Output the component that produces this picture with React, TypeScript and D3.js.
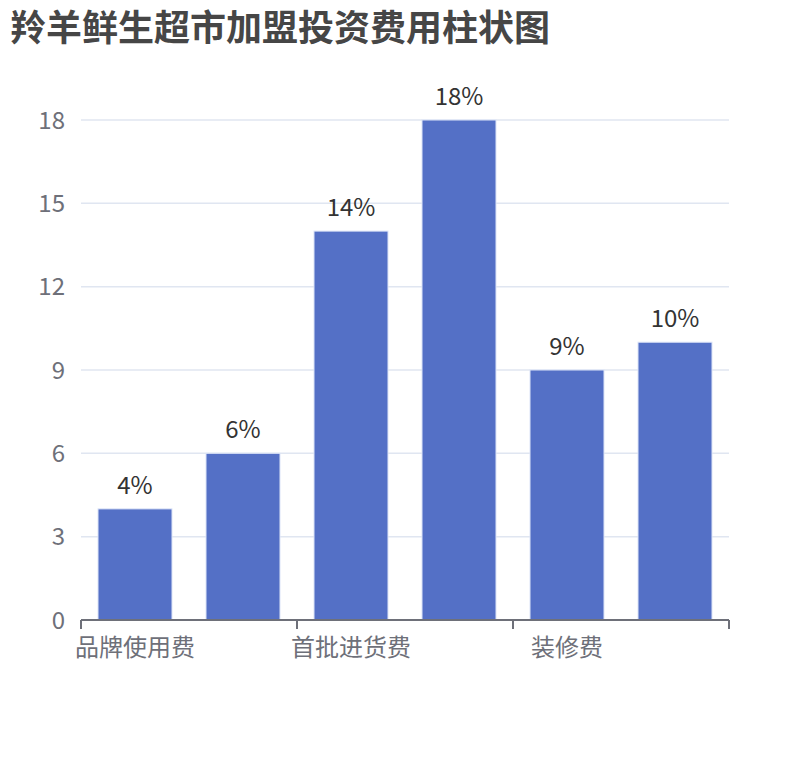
import React, { useEffect, useRef } from "react";
import * as d3 from "d3";

// данные графика
const categories = ["品牌使用费", "加盟保证金", "首批进货费", "设备购置费", "装修费", "流动资金"];
const values = [4, 6, 14, 18, 9, 10];
const yTicks = [0, 3, 6, 9, 12, 15, 18];
const title = "羚羊鲜生超市加盟投资费用柱状图";

const FONT = "'Noto Sans CJK SC', 'Noto Sans', sans-serif";

const App: React.FC = () => {
	const svgRef = useRef<SVGSVGElement | null>(null);

	useEffect(() => {
		if (!svgRef.current) return;
		const svg = d3.select(svgRef.current);
		svg.selectAll("*").remove();

		const width = 810;
		const height = 760;
		const margin = { top: 120, right: 81, bottom: 140, left: 81 };
		const innerWidth = width - margin.left - margin.right;
		const innerHeight = height - margin.top - margin.bottom;

		svg.attr("width", width).attr("height", height).style("font-family", FONT);

		svg
			.append("rect")
			.attr("width", width)
			.attr("height", height)
			.attr("fill", "#ffffff");

		// заголовок
		svg
			.append("text")
			.attr("x", 10)
			.attr("y", 41)
			.attr("fill", "#464646")
			.attr("font-size", 36)
			.attr("font-weight", "bold")
			.text(title);

		const xScale = d3
			.scaleBand()
			.domain(categories)
			.range([0, innerWidth])
			.paddingInner(0.315)
			.paddingOuter(0.1575);

		const yScale = d3.scaleLinear().domain([0, 18]).range([innerHeight, 0]);

		const g = svg.append("g").attr("transform", `translate(${margin.left}, ${margin.top})`);

		// сетка
		g.selectAll(".grid")
			.data(yTicks)
			.enter()
			.append("line")
			.attr("x1", 0)
			.attr("x2", innerWidth)
			.attr("y1", (d) => yScale(d))
			.attr("y2", (d) => yScale(d))
			.attr("stroke", "#e0e6f1")
			.attr("stroke-width", 1.5);

		// подписи оси Y
		g.selectAll(".ylab")
			.data(yTicks)
			.enter()
			.append("text")
			.attr("x", -16)
			.attr("y", (d) => yScale(d))
			.attr("dy", "0.36em")
			.attr("text-anchor", "end")
			.attr("fill", "#6e7079")
			.attr("font-size", 24)
			.text((d) => d);

		// столбцы
		g.selectAll(".bar")
			.data(values)
			.enter()
			.append("rect")
			.attr("x", (_, i) => xScale(categories[i]) || 0)
			.attr("y", (d) => yScale(d))
			.attr("width", xScale.bandwidth())
			.attr("height", (d) => innerHeight - yScale(d))
			.attr("fill", "#5470c6")
			.attr("stroke", "#dbe3f7")
			.attr("stroke-width", 1);

		// подписи значений
		g.selectAll(".val")
			.data(values)
			.enter()
			.append("text")
			.attr("x", (_, i) => (xScale(categories[i]) || 0) + xScale.bandwidth() / 2)
			.attr("y", (d) => yScale(d) - 15)
			.attr("text-anchor", "middle")
			.attr("fill", "#333333")
			.attr("font-size", 24)
			.text((d) => `${d}%`);

		// ось X
		g.append("line")
			.attr("x1", 0)
			.attr("x2", innerWidth)
			.attr("y1", innerHeight)
			.attr("y2", innerHeight)
			.attr("stroke", "#6e7079")
			.attr("stroke-width", 2);

		const step = xScale.step();
		const tickIdx = d3.range(0, categories.length + 1, 2);
		g.selectAll(".xtick")
			.data(tickIdx)
			.enter()
			.append("line")
			.attr("x1", (i) => i * step)
			.attr("x2", (i) => i * step)
			.attr("y1", innerHeight)
			.attr("y2", innerHeight + 9)
			.attr("stroke", "#6e7079")
			.attr("stroke-width", 2);

		g.selectAll(".xlab")
			.data(categories.filter((_, i) => i % 2 === 0))
			.enter()
			.append("text")
			.attr("x", (d) => (xScale(d) || 0) + xScale.bandwidth() / 2)
			.attr("y", innerHeight + 36)
			.attr("text-anchor", "middle")
			.attr("fill", "#6e7079")
			.attr("font-size", 24)
			.text((d) => d);
	}, []);

	return <svg ref={svgRef} style={{ position: "absolute", left: 0, top: 0 }}></svg>;
};

export default App;
